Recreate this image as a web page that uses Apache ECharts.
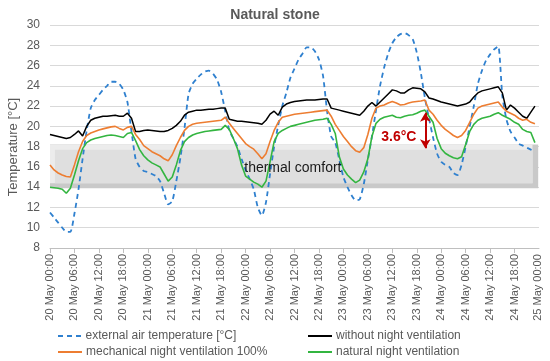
<!DOCTYPE html>
<html><head><meta charset="utf-8">
<script src="https://cdn.jsdelivr.net/npm/echarts@6/dist/echarts.min.js"></script>
<style>html,body{margin:0;padding:0;background:#fff;overflow:hidden}#c{width:550px;height:361px}</style>
</head><body><div id="c"></div>
<script>
// hourly values, 20 May 00:00 (hour 0) .. 24 May 23:00 (hour 119)
const tickLabels = ["20 May 00:00","20 May 06:00","20 May 12:00","20 May 18:00","21 May 00:00","21 May 06:00","21 May 12:00","21 May 18:00","22 May 00:00","22 May 06:00","22 May 12:00","22 May 18:00","23 May 00:00","23 May 06:00","23 May 12:00","23 May 18:00","24 May 00:00","24 May 06:00","24 May 12:00","24 May 18:00","25 May 00:00"];
const external = [11.5,11.0,10.5,10.0,9.6,9.6,11.4,13.8,16.8,19.6,21.8,22.6,23.1,23.6,24.0,24.4,24.4,24.2,23.6,22.4,19.5,16.8,16.0,15.6,
15.5,15.3,15.1,14.6,13.4,12.3,12.6,14.6,16.9,19.8,23.2,24.2,24.7,25.1,25.4,25.5,25.2,24.6,23.4,21.5,19.6,18.8,18.0,16.8,
15.7,14.8,13.8,12.0,11.2,12.5,15.3,18.0,20.1,22.0,23.3,24.8,25.7,26.6,27.2,27.8,27.8,27.4,26.6,25.0,21.5,19.0,18.4,16.7,
15.0,14.0,13.2,12.7,12.8,14.3,16.7,19.0,21.6,24.0,25.8,27.2,28.2,28.8,29.1,29.2,29.0,28.6,27.3,25.3,22.8,20.8,18.9,17.3,
16.5,16.2,16.0,15.4,15.2,16.2,18.0,20.0,22.0,24.2,25.5,26.5,27.1,27.6,27.9,23.0,20.7,19.5,18.9,18.3,18.1,17.9,17.7,17.5];
const withoutVent = [19.2,19.1,19.0,18.9,18.8,18.9,19.2,19.55,19.05,20.0,20.6,20.8,20.9,21.0,21.0,21.05,21.1,21.0,21.0,21.3,20.8,19.5,19.5,19.6,
19.65,19.6,19.55,19.5,19.5,19.6,19.8,20.1,20.5,21.1,21.4,21.5,21.6,21.6,21.65,21.7,21.7,21.75,21.8,21.8,20.7,20.6,20.5,20.5,
20.45,20.4,20.35,20.3,20.2,20.6,21.2,21.5,21.1,21.9,22.2,22.35,22.45,22.5,22.55,22.6,22.6,22.6,22.65,22.7,22.7,21.8,21.7,21.6,
21.5,21.4,21.3,21.2,21.1,21.5,22.0,22.35,22.0,22.4,22.8,23.2,23.6,23.5,23.3,23.3,23.6,23.8,23.75,23.7,23.4,22.8,22.7,22.55,
22.4,22.3,22.2,22.1,22.0,22.1,22.2,22.4,22.9,23.3,23.5,23.6,23.7,23.8,23.9,23.3,21.6,22.1,21.8,21.4,21.0,20.8,21.4,22.0];
const mechanicalVent = [16.2,15.7,15.4,15.2,15.05,15.0,16.2,17.5,18.5,19.1,19.35,19.5,19.65,19.75,19.85,19.95,20.0,19.8,19.65,19.9,20.0,19.2,18.7,18.1,
17.8,17.5,17.3,17.1,16.8,16.6,17.2,18.1,18.9,19.6,20.0,20.2,20.3,20.35,20.4,20.45,20.5,20.55,20.6,20.9,20.3,19.8,19.3,18.8,
18.3,18.0,17.75,17.3,16.8,17.3,18.5,19.6,20.4,20.9,21.0,21.1,21.2,21.25,21.3,21.35,21.4,21.45,21.5,21.55,21.6,21.0,20.2,19.6,
19.0,18.5,18.0,17.6,17.45,17.9,19.2,20.8,21.8,22.0,22.1,22.3,22.45,22.3,22.1,22.15,22.3,22.4,22.45,22.5,22.6,21.6,21.2,20.6,
20.1,19.7,19.4,19.1,18.9,19.1,19.6,20.4,21.2,21.8,22.0,22.1,22.2,22.3,22.4,21.9,21.5,21.3,21.1,20.8,20.6,20.7,20.4,20.25];
const naturalVent = [14.0,13.95,13.9,13.8,13.4,13.9,15.2,16.6,17.8,18.4,18.65,18.8,18.9,19.0,19.1,19.15,19.1,19.0,18.9,19.3,19.4,18.6,17.7,17.1,
16.7,16.4,16.2,16.0,15.3,14.6,15.0,16.2,17.6,18.5,18.9,19.15,19.3,19.4,19.5,19.55,19.6,19.65,19.7,20.1,19.7,18.8,17.8,16.2,
15.1,14.8,14.5,14.3,14.0,14.6,16.5,18.5,19.3,19.6,19.8,20.0,20.1,20.2,20.3,20.4,20.5,20.6,20.65,20.7,20.8,20.2,19.3,17.0,
15.8,15.2,14.8,14.45,14.7,15.5,16.8,19.0,20.3,20.7,20.9,21.0,21.1,20.9,20.85,21.0,21.1,21.15,21.3,21.5,21.6,21.0,20.4,18.8,
17.8,17.35,17.1,16.9,16.8,17.0,18.2,19.5,20.2,20.6,20.8,20.9,21.0,21.2,21.35,21.1,20.9,20.7,20.4,20.2,19.7,19.5,19.4,18.4];
const seriesNames = ["external air temperature [°C]","without night ventilation","mechanical night ventilation 100%","natural night ventilation"];

const toPairs = arr => arr.map((v, i) => [i, v]);
const FONT = 'Liberation Sans';
const DASH_ICON = 'path://M0,0h5v2h-5z M9,0h5v2h-5z M18,0h5v2h-5z';
const LINE_ICON = 'path://M0,0h24v2h-24z';
const X_MAX = 120;
function legendItem(name, icon, left, top) {
  return {left: left, top: top, padding: 0, itemWidth: 24, itemHeight: 2, itemGap: 0,
    icon: icon, textStyle: {fontSize: 12, color: '#595959', padding: [0, 0, 0, -1]}, data: [name]};
}
const chart = echarts.init(document.getElementById('c'), null, {renderer: 'canvas'});
chart.setOption({
  animation: false,
  textStyle: {fontFamily: FONT},
  title: {text: 'Natural stone', left: 'center', top: 3,
    textStyle: {fontSize: 14, fontWeight: 'bold', color: '#595959', fontFamily: FONT}},
  grid: {left: 50, right: 11, top: 25, bottom: 113, outerBoundsMode: 'none'},
  xAxis: {type: 'value', min: 0, max: X_MAX, interval: 6,
    axisLine: {show: true, lineStyle: {color: '#bfbfbf'}},
    axisTick: {show: true, length: 5, lineStyle: {color: '#bfbfbf'}},
    splitLine: {show: false},
    axisLabel: {rotate: 90, fontSize: 11, color: '#595959', margin: 6,
      hideOverlap: false, showMaxLabel: false, showMinLabel: true,
      formatter: v => tickLabels[Math.round(v / 6)]}},
  yAxis: {type: 'value', min: 8, max: 30, interval: 2,
    axisLine: {show: false}, axisTick: {show: false},
    axisLabel: {fontSize: 12, color: '#595959', margin: 10},
    splitLine: {lineStyle: {color: '#d9d9d9'}}},
  legend: [
    legendItem(seriesNames[0], DASH_ICON, 58, 330),
    legendItem(seriesNames[2], LINE_ICON, 58, 346),
    legendItem(seriesNames[1], LINE_ICON, 308, 330),
    legendItem(seriesNames[3], LINE_ICON, 308, 346)
  ],
  series: [
    {type: 'line', name: 'band', data: [], silent: true,
      markArea: {silent: true, data: [
        [{coord: [0, 13.9], itemStyle: {color: '#c9c9c9'}}, {coord: [119.8, 18.2]}],
        [{coord: [0, 14.4], itemStyle: {color: '#ececec'}}, {coord: [118.4, 18.2]}],
        [{coord: [1.2, 14.4], itemStyle: {color: '#dfdfdf'}}, {coord: [118.4, 17.7]}]
      ]},
      markPoint: {silent: true, symbol: 'circle', symbolSize: 0.1, data: [
        {coord: [59.6, 15.9], label: {show: true, position: 'inside', formatter: 'thermal comfort',
          fontSize: 14, color: '#1a1a1a', fontFamily: FONT}},
        {coord: [85.6, 18.95], label: {show: true, position: 'inside', formatter: '3.6°C',
          fontSize: 14, fontWeight: 'bold', color: '#c00000', fontFamily: FONT}}
      ]},
      markLine: {silent: true, symbol: ['arrow', 'arrow'], symbolSize: [8, 9],
        lineStyle: {color: '#c00000', width: 2, type: 'solid'}, label: {show: false},
        data: [[{coord: [92.1, 21.35]}, {coord: [92.1, 17.85]}]]}
    },
    {type: 'line', name: seriesNames[0], data: toPairs(external), symbol: 'none', smooth: 0.2,
      lineStyle: {color: '#2f80cf', width: 1.8, type: [5, 4]}, itemStyle: {color: '#2f80cf'}, z: 3},
    {type: 'line', name: seriesNames[1], data: toPairs(withoutVent), symbol: 'none',
      lineStyle: {color: '#000000', width: 1.5}, itemStyle: {color: '#000000'}, z: 4},
    {type: 'line', name: seriesNames[2], data: toPairs(mechanicalVent), symbol: 'none',
      lineStyle: {color: '#ed7d31', width: 1.6}, itemStyle: {color: '#ed7d31'}, z: 4},
    {type: 'line', name: seriesNames[3], data: toPairs(naturalVent), symbol: 'none',
      lineStyle: {color: '#33b540', width: 1.6}, itemStyle: {color: '#33b540'}, z: 4}
  ]
});
// last tick label drawn at the axis max position (computed through the axis scale)
const lastPt = chart.convertToPixel({gridIndex: 0}, [X_MAX, 8]);
chart.setOption({
  graphic: [
    {type: 'text', x: 13, y: 147, rotation: Math.PI / 2,
      style: {text: 'Temperature [°C]', fontSize: 13, fill: '#595959', fontFamily: FONT,
        align: 'center', verticalAlign: 'middle'}},
    {type: 'text', x: lastPt[0] - 1, y: lastPt[1] + 39.5, rotation: Math.PI / 2, z: 50,
      style: {text: tickLabels[tickLabels.length - 1], fontSize: 11, fill: '#595959', fontFamily: FONT,
        align: 'center', verticalAlign: 'middle', overflow: 'none'}}
  ]
});
</script></body></html>
